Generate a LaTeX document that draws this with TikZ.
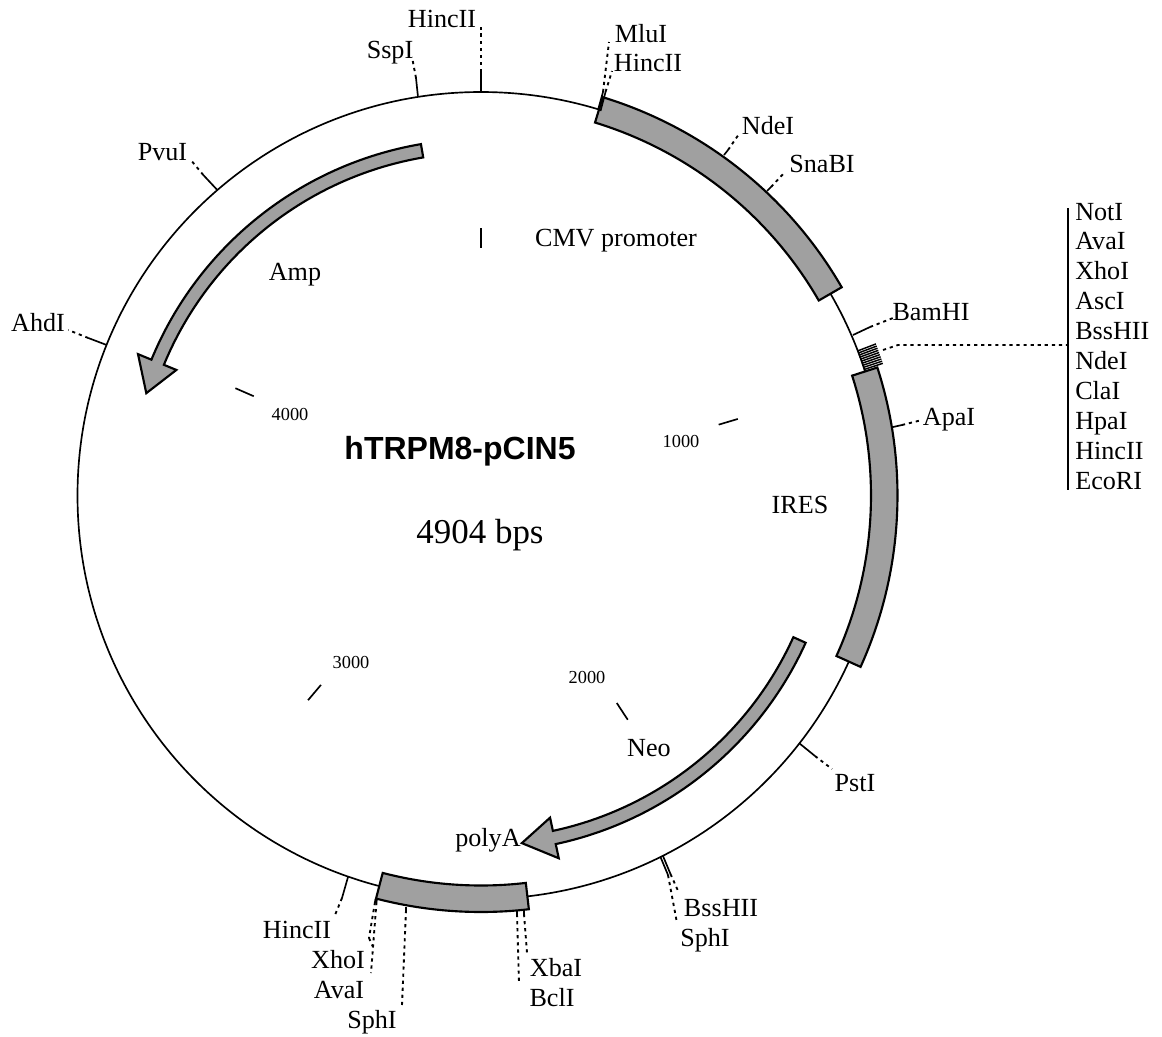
\documentclass[tikz,border=0pt]{standalone}
\usepackage{fontspec}
\setmainfont{Liberation Serif}
\newfontfamily\headfont{Liberation Sans}
\definecolor{bandgray}{RGB}{160,160,160}
\tikzset{
  backbone/.style={line width=1.25pt,black},
  feature/.style={draw=black,fill=bandgray,line width=1.6pt,line join=miter},
  solidtick/.style={line width=1.25pt,black},
  dots/.style={line width=1.4pt,black,dash pattern=on 2.4pt off 2.9pt},
  lab/.style={font=\fontsize{19.6}{23}\selectfont,inner sep=0pt,anchor=base},
  lableft/.style={lab,anchor=base west},
  scalelab/.style={font=\fontsize{13.75}{16}\selectfont,inner sep=0pt},
}
% name, base x,y, mid x,y, end x,y
\newcommand\sitetick[7]{%
  \coordinate (#1a) at (#2,#3);
  \coordinate (#1b) at (#4,#5);
  \coordinate (#1c) at (#6,#7);
  \draw[solidtick] (#1a) -- (#1b);
  \draw[dots] (#1b) -- (#1c);
}
\newcommand\lab[4]{\node[lab] (#1) at (#2,{#3+8.5}) {#4};}
\newcommand\band[3]{%
  \draw[feature] (#2:416.5) arc[start angle=#2,end angle=#3,radius=416.5]
    -- (#3:390) arc[start angle=#3,end angle=#2,radius=390] -- cycle;}
% tail angle, neck angle, tip angle
\newcommand\arrowband[3]{%
  \draw[feature] (#1:356.5) arc[start angle=#1,end angle=#2,radius=356.5]
    -- (#2:371) -- (#3:350) -- (#2:329.5) -- (#2:343)
    arc[start angle=#2,end angle=#1,radius=343] -- cycle;}
\begin{document}
\begin{tikzpicture}[x=0.75pt,y=-0.75pt]
\path[use as bounding box] (0,0) rectangle (1162,1036);
\begin{scope}[shift={(481,495.5)},y=0.75pt]
  \draw[backbone] (0,0) circle[radius=403.5];
  % scale ticks
  \foreach \a in {90,16.6,-56.8,-130.2,156.4}
    \draw[solidtick] (\a:248) -- (\a:268);
  % features
  \band{cmv}{73}{30}
  \band{ires}{17.9}{-24.3}
  \band{polya}{255.4}{276.6}
  \arrowband{99.7}{157.6}{163}
  \arrowband{-24.4}{-77.9}{-83.3}
  % multiple cloning site ticks
  \foreach \i in {0,...,9}
    \draw[line width=1.1pt] ({21-\i*0.31}:403) -- ({21-\i*0.31}:423);
\end{scope}

% top
\sitetick{hincT}{481}{92}{481}{72}{481}{27}
\sitetick{ssp}{418}{97}{416}{78}{412}{57}
\sitetick{mlu}{598}{110}{603}{92}{609}{42}
\sitetick{hincM}{600.5}{111}{605.5}{92}{612}{71}
\sitetick{nde}{724}{155}{728}{150}{739}{134}
\sitetick{sna}{767}{191}{771}{187}{785}{172}
\sitetick{bam}{853}{335}{870}{327}{893}{318}
\sitetick{apa}{893}{427}{902}{425}{922}{420}
\sitetick{pst}{799}{743}{815}{756}{832}{769}
\sitetick{sphB}{660.5}{857}{668}{875}{677}{923}
\sitetick{bssB}{663}{856}{670.5}{874}{679}{893}
\sitetick{hincB}{348}{877}{342}{898}{335}{915}
\sitetick{xho}{375.5}{899}{375}{902}{369}{938}
\coordinate (xhod) at (373,947);
\draw[dots] (xhoc) -- (xhod);
\sitetick{ava}{377}{899}{376.5}{902}{371}{973}
\sitetick{sphL}{406}{907}{406}{910}{402}{1005}
\sitetick{bcl}{517}{911}{517}{914}{519}{983}
\sitetick{xba}{524}{911}{524}{914}{527}{953}
\sitetick{pvu}{217.3}{190}{203.3}{175}{190}{159}
\sitetick{ahd}{106.7}{345}{88.3}{338}{68.3}{330}

% MCS connector and bracket
\coordinate (mcsa) at (883,350);
\coordinate (mcsb) at (898,345);
\coordinate (mcsc) at (1067,345);
\coordinate (brT) at (1068,208);
\coordinate (brB) at (1068,490);
\draw[dots] (mcsa) -- (mcsb) -- (mcsc);
\draw[solidtick] (brT) -- (brB);

% site labels
\lab{lhincT}{442}{19}{HincII}
\lab{lssp}{390}{50}{SspI}
\lab{lmlu}{641}{34}{MluI}
\lab{lhincM}{648}{63}{HincII}
\lab{lnde}{768}{126}{NdeI}
\lab{lsna}{822}{164}{SnaBI}
\lab{lbam}{931}{312}{BamHI}
\lab{lapa}{949}{417}{ApaI}
\lab{lpst}{855}{783}{PstI}
\lab{lbss}{721}{908}{BssHII}
\lab{lsphB}{705}{938}{SphI}
\lab{lhincB}{297}{930}{HincII}
\lab{lxho}{338}{960}{XhoI}
\lab{lava}{339}{990}{AvaI}
\lab{lsphL}{372}{1020}{SphI}
\lab{lxba}{556}{968}{XbaI}
\lab{lbcl}{552}{998}{BclI}
\lab{lpvu}{162.5}{152}{PvuI}
\lab{lahd}{38}{323}{AhdI}

% MCS list
\foreach \t/\n [count=\k from 0] in {NotI/a,AvaI/b,XhoI/c,AscI/d,BssHII/e,NdeI/f,ClaI/g,HpaI/h,HincII/i,EcoRI/j}
  \node[lableft] (mcs\n) at (1075,{220+\k*29.9}) {\t};

% feature labels
\lab{lamp}{295}{272}{Amp}
\lab{lcmv}{616}{238}{CMV promoter}
\lab{lires}{800}{505}{IRES}
\lab{lneo}{649}{748}{Neo}
\lab{lpoly}{488}{838}{polyA}

% scale labels
\node[scalelab] (s1) at (681,441) {1000};
\node[scalelab] (s2) at (587,677) {2000};
\node[scalelab] (s3) at (351,662) {3000};
\node[scalelab] (s4) at (290,414) {4000};

% title
\node[font=\headfont\bfseries\fontsize{24}{28}\selectfont,inner sep=0pt] (title) at (460,451) {hTRPM8-pCIN5};
\node[font=\fontsize{26.2}{30}\selectfont,inner sep=0pt] (size) at (480,535) {4904 bps};
\end{tikzpicture}
\end{document}
